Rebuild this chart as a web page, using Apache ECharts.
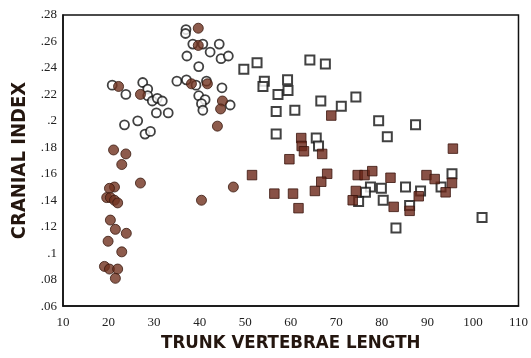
<!DOCTYPE html>
<html>
<head>
<meta charset="utf-8">
<script src="https://cdn.jsdelivr.net/npm/echarts@6/dist/echarts.min.js"></script>
<style>html,body{margin:0;padding:0;background:#fff}#c{width:531px;height:358px}</style>
</head>
<body>
<div id="c"></div>
<script>
const xTicks = [10,20,30,40,50,60,70,80,90,100,110];
const yTicks = [0.06,0.08,0.10,0.12,0.14,0.16,0.18,0.20,0.22,0.24,0.26,0.28];

const openCircles = [
  [20.8,0.227],[23.8,0.220],[27.5,0.229],[28.6,0.224],[28.6,0.219],[29.6,0.215],[30.7,0.217],
  [31.8,0.215],[30.5,0.206],[33.1,0.206],[23.5,0.197],[26.4,0.200],[28.0,0.190],[29.2,0.192],
  [35.0,0.230],[37.0,0.269],[36.9,0.266],[38.5,0.258],[40.7,0.258],[44.3,0.258],[42.3,0.252],
  [37.2,0.249],[44.7,0.247],[46.3,0.249],[39.8,0.241],[37.1,0.231],[39.2,0.227],[41.5,0.230],
  [44.9,0.225],[39.8,0.219],[41.2,0.216],[40.4,0.213],[40.7,0.208],[46.7,0.212]
];
const filledCircles = [
  [22.2,0.226],[27.0,0.220],[21.1,0.178],[23.8,0.175],[22.9,0.167],[27.0,0.153],[21.3,0.150],
  [20.2,0.149],[19.6,0.142],[20.4,0.142],[21.3,0.140],[22.0,0.138],[20.4,0.125],[21.5,0.118],
  [23.9,0.115],[19.9,0.109],[22.9,0.101],[19.1,0.090],[20.2,0.088],[22.0,0.088],[21.5,0.081],
  [39.7,0.270],[39.7,0.257],[38.2,0.228],[41.7,0.228],[45.0,0.215],[44.6,0.209],[43.9,0.196],
  [47.4,0.150],[40.4,0.140]
];
const openSquares = [
  [49.7,0.239],[52.6,0.244],[64.2,0.246],[67.6,0.243],[54.2,0.230],[53.9,0.226],[59.3,0.231],
  [57.2,0.220],[59.4,0.223],[66.6,0.215],[71.1,0.211],[74.3,0.218],[56.8,0.207],[60.9,0.208],
  [56.8,0.190],[65.6,0.187],[66.1,0.181],[79.3,0.200],[87.4,0.197],[81.2,0.188],[95.4,0.160],
  [77.5,0.150],[76.4,0.146],[79.9,0.149],[85.2,0.150],[88.5,0.147],[93.0,0.150],[74.9,0.139],
  [80.3,0.140],[86.1,0.136],[102.0,0.127],[83.1,0.119]
];
const filledSquares = [
  [68.9,0.204],[62.3,0.187],[62.4,0.181],[62.9,0.177],[66.9,0.175],[59.7,0.171],[51.5,0.159],
  [68.0,0.160],[66.7,0.154],[65.3,0.147],[56.4,0.145],[60.5,0.145],[61.7,0.134],[95.6,0.179],
  [74.7,0.159],[76.2,0.159],[77.9,0.162],[81.9,0.157],[89.8,0.159],[91.6,0.156],[95.4,0.153],
  [94.0,0.146],[74.3,0.147],[73.6,0.140],[82.6,0.135],[88.1,0.143],[86.1,0.132]
];

const brown = '#70321f';
const chart = echarts.init(document.getElementById('c'), null, {renderer:'canvas'});
const serif = 'Liberation Serif';
const titleFont = 'Liberation Sans Narrow, DejaVu Sans Condensed, sans-serif';
chart.setOption({
  animation:false,
  backgroundColor:'#fff',
  grid:{left:63,right:11,top:15,bottom:44,show:true,borderColor:'#111',borderWidth:1.5,backgroundColor:'transparent'},
  xAxis:{
    type:'value',min:xTicks[0],max:xTicks[xTicks.length-1],interval:10,
    name:'TRUNK VERTEBRAE LENGTH',nameLocation:'middle',nameGap:27,
    nameTextStyle:{fontFamily:titleFont,fontWeight:'bold',fontSize:18.5,color:'#24160f'},
    axisLine:{show:true,onZero:false,lineStyle:{color:'#111',width:1.5}},
    axisTick:{show:false},splitLine:{show:false},
    axisLabel:{fontFamily:serif,fontSize:13,color:'#222',margin:10}
  },
  yAxis:{
    type:'value',min:yTicks[0],max:yTicks[yTicks.length-1],interval:0.02,
    name:'CRANIAL INDEX',nameLocation:'middle',nameGap:31,nameRotate:90,
    nameTextStyle:{fontFamily:titleFont,fontWeight:'bold',fontSize:20,color:'#24160f'},
    axisLine:{show:true,onZero:false,lineStyle:{color:'#111',width:1.5}},
    axisTick:{show:false},splitLine:{show:false},
    axisLabel:{fontFamily:serif,fontSize:13,color:'#222',margin:6,
      formatter:v=>{let s=(Math.round(v*100)/100).toFixed(2).replace(/^0/,'');return s.replace(/0$/,'');}}
  },
  series:[
    {type:'scatter',data:openSquares,symbol:'rect',symbolSize:9,
      itemStyle:{color:'#fff',borderColor:'#111',borderWidth:2}},
    {type:'scatter',data:filledSquares,symbol:'rect',symbolSize:9.5,
      itemStyle:{color:'#6a2618',borderColor:'#3a140c',borderWidth:1}},
    {type:'scatter',data:openCircles,symbol:'circle',symbolSize:9,
      itemStyle:{color:'#fff',borderColor:'#111',borderWidth:1.8}},
    {type:'scatter',data:filledCircles,symbol:'circle',symbolSize:10,
      itemStyle:{color:brown,borderColor:'#3a1a10',borderWidth:1}}
  ]
});
</script>
</body>
</html>
